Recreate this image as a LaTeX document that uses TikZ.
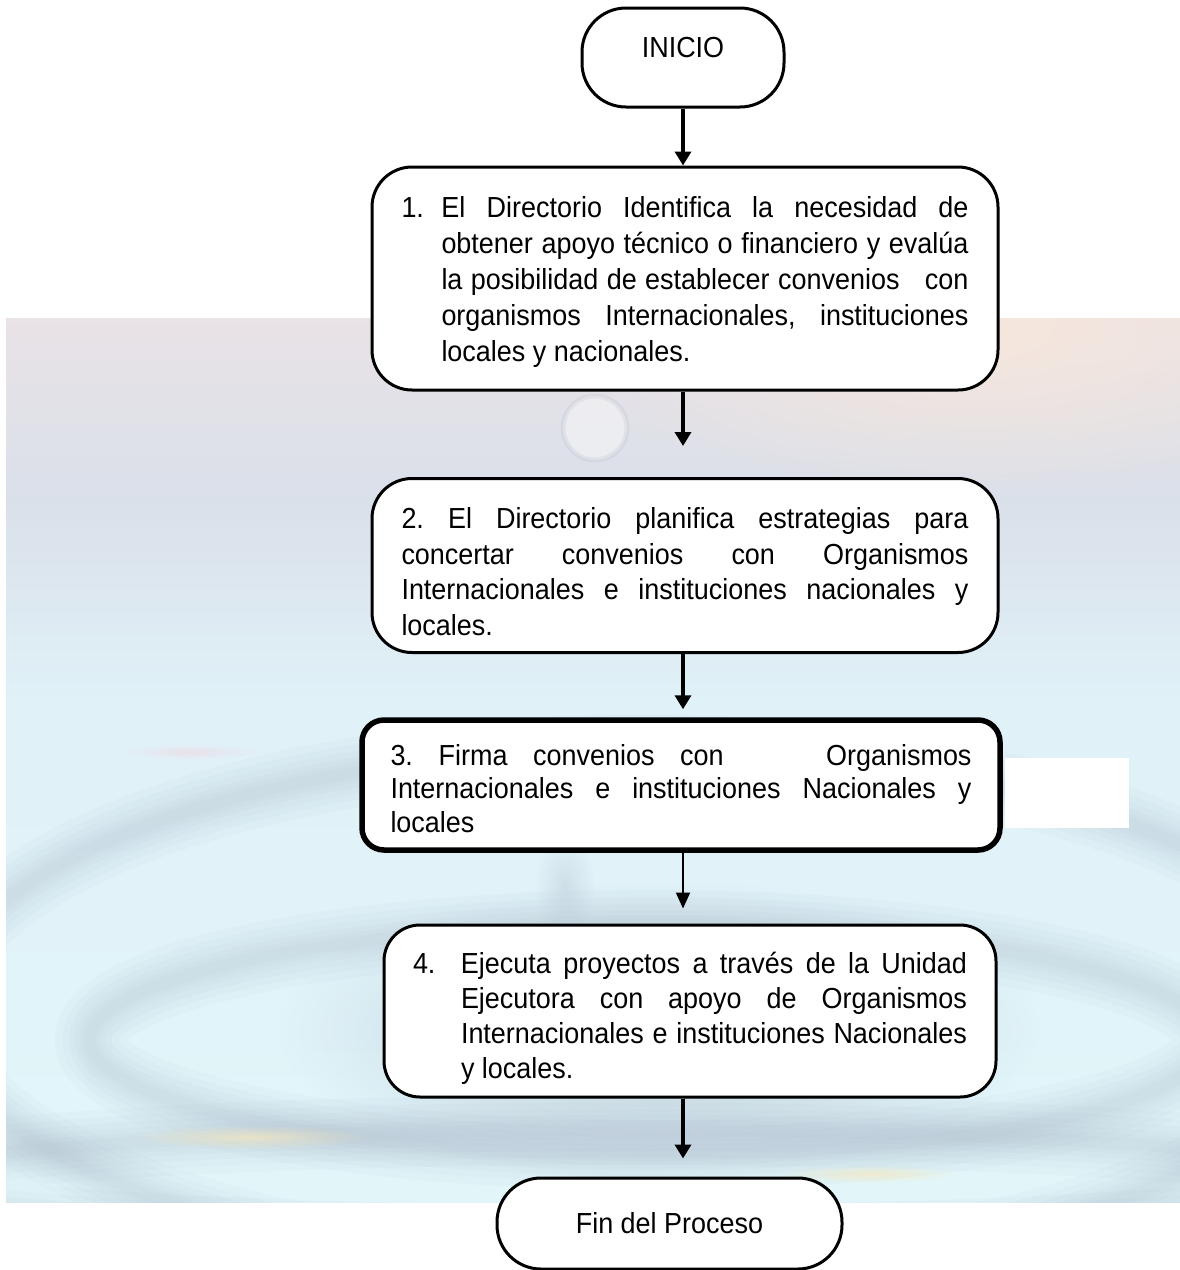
\documentclass[tikz,border=0pt]{standalone}
\usepackage{fontspec}
\setmainfont{Liberation Sans}[FakeStretch=0.93]
\usetikzlibrary{arrows.meta,fadings}
\frenchspacing

% palette of the water backdrop
\definecolor{wTop}{RGB}{233,226,230}
\definecolor{wUpper}{RGB}{218,224,234}
\definecolor{wMid}{RGB}{224,241,248}
\definecolor{wLow}{RGB}{226,246,250}
\definecolor{wPeach}{RGB}{250,232,218}
\definecolor{wRipple}{RGB}{165,178,196}
\definecolor{wGold}{RGB}{246,232,190}
\definecolor{wRose}{RGB}{240,214,226}

\tikzfading[name=softglow, inner color=transparent!0, outer color=transparent!100]

\tikzset{
  txt/.style={font=\fontsize{29}{36}\selectfont},
  stepbox/.style={txt, draw=black, line width=3pt, fill=white,
    rounded corners=40pt, inner sep=0pt, align=justify},
  terminal/.style={txt, draw=black, line width=3pt, fill=white,
    rounded corners=44pt, inner sep=0pt, align=center},
  flow/.style={line width=4pt, -{Triangle[width=16pt,length=14pt]}},
  thinflow/.style={line width=2pt, -{Triangle[width=14pt,length=16pt]}},
  ripple/.style={draw=wRipple, line width=#1, opacity=0.06},
}

\begin{document}
\begin{tikzpicture}[x=1pt,y=-1pt]
\useasboundingbox (0,0) rectangle (1180,1270);

% ---- water backdrop ----
\shade[top color=wTop, bottom color=wUpper] (6,318) rectangle (1180,500.5);
\shade[top color=wUpper, bottom color=wMid] (6,500) rectangle (1180,700.5);
\shade[top color=wMid, bottom color=wLow] (6,700) rectangle (1180,1202);
\begin{scope}
  \clip (6,318) rectangle (1180,1202);
  \fill[wPeach, opacity=0.8, path fading=softglow]
    (980,330) ellipse [x radius=420pt, y radius=170pt];
  % crater of the drop
  \fill[wRipple, opacity=0.55, path fading=softglow]
    (660,1030) ellipse [x radius=380pt, y radius=150pt];
  % concentric ripples around the drop
  \foreach \w in {70,55,42,30,20,12} {
    \draw[ripple=\w pt] (640,1010) ellipse [x radius=700pt, y radius=260pt];
    \draw[ripple=\w pt] (650,1040) ellipse [x radius=560pt, y radius=115pt];
    \draw[ripple=\w pt] (620,1185) ellipse [x radius=760pt, y radius=55pt];
  }
  % warm glints on the ripples
  \fill[wGold, opacity=0.7, path fading=softglow]
    (250,1137) ellipse [x radius=120pt, y radius=12pt];
  \fill[wGold, opacity=0.7, path fading=softglow]
    (870,1174) ellipse [x radius=90pt, y radius=9pt];
  \fill[wRose, opacity=0.6, path fading=softglow]
    (190,752) ellipse [x radius=70pt, y radius=8pt];
  % the falling drop
  \fill[wRipple, opacity=0.3, path fading=softglow]
    (565,885) ellipse [x radius=30pt, y radius=50pt];
  \fill[white, opacity=0.4] (595,428) circle (32pt);
  \draw[wRipple, opacity=0.18, line width=5pt] (595,428) circle (32pt);
\end{scope}
% blank white patch beside step 3
\fill[white] (1005,758) rectangle (1129,828);

% ---- flowchart ----
\node[terminal, minimum width=202pt, minimum height=99pt,
      text height=0pt, text depth=0pt] (ini) at (683,57.5) {INICIO};

\node[stepbox, minimum width=626pt, minimum height=223pt, text width=567pt]
  (s1) at (685,278.5)
  {\noindent\hangindent=40pt\hangafter=1\rule{0pt}{28pt}\makebox[40pt][l]{1.}El Directorio Identifica la necesidad de\linebreak
   obtener apoyo técnico o financiero y evalúa\linebreak
   la posibilidad de establecer convenios\ \ \ con\linebreak
   organismos Internacionales, instituciones\linebreak
   locales y nacionales.\par};

\node[stepbox, minimum width=626pt, minimum height=174pt, text width=567pt]
  (s2) at (685,565.5)
  {\fontsize{29}{35.5}\selectfont\noindent\rule{0pt}{33pt}2. El Directorio planifica estrategias para\linebreak
   concertar convenios con Organismos\linebreak
   Internacionales e instituciones nacionales y\linebreak
   locales.\par};

\node[stepbox, line width=5.5pt, rounded corners=22pt,
      minimum width=638pt, minimum height=130pt, text width=581pt]
  (s3) at (681,785)
  {\fontsize{29}{33.5}\selectfont\noindent\rule{0pt}{28pt}3. Firma convenios con\ \ \ \ Organismos\linebreak
   Internacionales e instituciones Nacionales y\linebreak
   locales\par};

\node[stepbox, rounded corners=36pt, minimum width=612pt, minimum height=172pt, text width=554pt]
  (s4) at (690,1011)
  {\fontsize{29}{35}\selectfont\noindent\hangindent=48pt\hangafter=1\rule{0pt}{36pt}\makebox[48pt][l]{4.}Ejecuta proyectos a través de la Unidad\linebreak
   Ejecutora con apoyo de Organismos\linebreak
   Internacionales e instituciones Nacionales\linebreak
   y locales.\par};

\node[terminal, minimum width=345pt, minimum height=91pt] (fin) at (669.5,1223.5)
  {Fin del Proceso};

% ---- connectors ----
\draw[flow] (ini.south -| 683,0) -- (s1.north -| 683,0);
\draw[flow, shorten >=31pt] (s1.south -| 683,0) -- (s2.north -| 683,0);
\draw[flow, shorten >=8pt] (s2.south -| 683,0) -- (s3.north -| 683,0);
\draw[thinflow, shorten >=15pt] (s3.south -| 683,0) -- (s4.north -| 683,0);
\draw[flow, shorten >=18pt] (s4.south -| 683,0) -- (fin.north -| 683,0);
\end{tikzpicture}
\end{document}
